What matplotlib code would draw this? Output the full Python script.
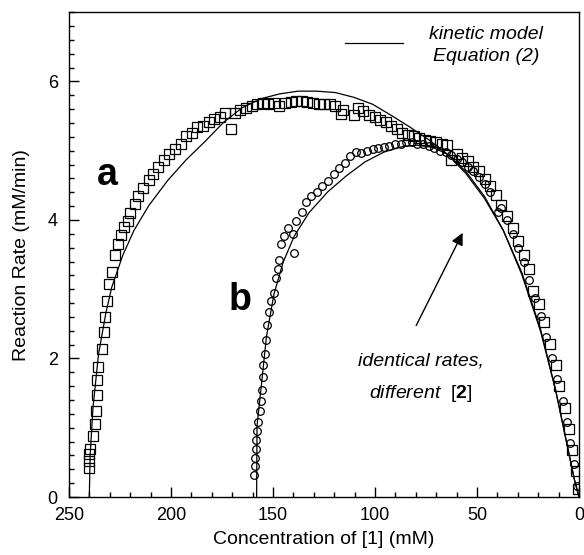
import matplotlib.pyplot as plt
from matplotlib.ticker import MultipleLocator

plt.rcParams['font.family'] = ['Liberation Sans', 'DejaVu Sans']
plt.rcParams['mathtext.fontset'] = 'custom'
plt.rcParams['mathtext.rm'] = 'Liberation Sans'
plt.rcParams['mathtext.bf'] = 'Liberation Sans:bold'

# series a (squares), concentration of [1] in mM and rate in mM/min
a_conc = [240.3, 240.2, 240.0, 239.8, 238.2, 237.3, 236.7, 236.0, 236.0, 235.5,
          233.6, 233.0, 232.4, 231.3, 230.5, 229.0, 227.2, 225.8, 224.3, 223.0,
          221.2, 220.0, 217.7, 216.0, 213.5, 210.8, 209.0, 206.2, 203.5, 200.8,
          198.0, 195.2, 192.5, 189.8, 187.0, 184.3, 181.5, 178.8, 176.0, 173.3,
          170.6, 168.7, 166.0, 163.3, 160.5, 157.8, 155.0, 152.3, 149.5, 146.8,
          144.0, 141.3, 138.6, 135.8, 133.1, 130.3, 127.6, 124.9, 122.1, 119.4,
          116.6, 115.7, 110.2, 108.4, 105.7, 102.9, 100.2, 97.4, 94.7, 92.0,
          89.2, 86.5, 83.7, 81.0, 78.2, 75.5, 72.8, 70.0, 67.3, 64.5,
          62.7, 60.0, 57.2, 54.5, 51.7, 49.0, 46.3, 43.5, 40.8, 38.0,
          35.3, 32.5, 29.8, 27.1, 24.3, 22.5, 19.7, 17.0, 14.3, 11.5,
          9.7, 6.9, 5.1, 3.3, 1.5, 0.5]
a_rate = [0.42, 0.52, 0.62, 0.70, 0.88, 1.06, 1.24, 1.47, 1.69, 1.88,
          2.14, 2.38, 2.60, 2.83, 3.08, 3.25, 3.49, 3.65, 3.78, 3.90,
          3.98, 4.10, 4.23, 4.34, 4.46, 4.58, 4.67, 4.77, 4.87, 4.95,
          5.03, 5.10, 5.21, 5.26, 5.34, 5.36, 5.41, 5.46, 5.49, 5.54,
          5.32, 5.54, 5.59, 5.62, 5.65, 5.67, 5.69, 5.67, 5.69, 5.64,
          5.69, 5.70, 5.72, 5.72, 5.70, 5.69, 5.68, 5.68, 5.67, 5.64,
          5.53, 5.59, 5.51, 5.62, 5.57, 5.51, 5.49, 5.44, 5.41, 5.36,
          5.31, 5.26, 5.23, 5.21, 5.18, 5.16, 5.14, 5.13, 5.10, 5.08,
          4.87, 4.95, 4.90, 4.85, 4.77, 4.70, 4.59, 4.49, 4.36, 4.21,
          4.06, 3.88, 3.70, 3.49, 3.29, 2.98, 2.78, 2.52, 2.21, 1.90,
          1.60, 1.29, 0.98, 0.68, 0.37, 0.11]

# series b (circles)
b_conc = [159.4, 159.0, 158.9, 158.5, 158.1, 157.8, 157.4, 156.5, 155.9, 155.6,
          155.0, 154.7, 154.1, 153.6, 153.0, 151.9, 150.8, 149.5, 148.6, 147.7,
          147.2, 145.9, 144.6, 142.8, 140.4, 139.5, 138.6, 135.8, 134.0, 131.3,
          128.5, 125.8, 123.0, 120.3, 117.5, 114.8, 112.1, 109.3, 106.6, 103.8,
          101.1, 98.4, 95.6, 92.9, 90.1, 87.4, 84.6, 81.9, 79.2, 76.4,
          73.7, 70.9, 68.2, 65.4, 62.7, 60.0, 57.2, 54.5, 51.7, 49.0,
          46.3, 43.5, 39.9, 38.0, 35.3, 32.5, 29.8, 27.1, 24.3, 21.6,
          18.8, 16.1, 13.3, 10.6, 7.9, 6.0, 4.2, 2.4, 0.9]
b_rate = [0.32, 0.45, 0.57, 0.70, 0.83, 0.96, 1.09, 1.24, 1.39, 1.55,
          1.73, 1.90, 2.06, 2.26, 2.49, 2.67, 2.83, 2.95, 3.16, 3.29,
          3.42, 3.65, 3.77, 3.88, 3.80, 3.52, 3.98, 4.11, 4.26, 4.34,
          4.41, 4.49, 4.57, 4.67, 4.75, 4.82, 4.93, 4.98, 4.97, 5.00,
          5.03, 5.04, 5.05, 5.07, 5.09, 5.10, 5.12, 5.13, 5.10, 5.09,
          5.07, 5.04, 5.00, 4.98, 4.94, 4.88, 4.83, 4.77, 4.70, 4.62,
          4.52, 4.41, 4.11, 4.18, 4.00, 3.80, 3.59, 3.39, 3.13, 2.88,
          2.62, 2.31, 2.01, 1.70, 1.39, 1.09, 0.78, 0.47, 0.16]

# kinetic model curves, Equation (2)
ma_conc = [240.0, 239.6, 238.2, 235.5, 231.8, 229.0, 223.6, 218.1, 210.8, 201.6,
           192.5, 183.4, 174.2, 165.1, 156.0, 146.8, 137.7, 128.5, 119.4, 110.2,
           101.1, 92.0, 82.8, 73.7, 64.5, 55.4, 46.3, 37.1, 28.0, 18.8,
           11.5, 6.0, 2.4, 0.0]
ma_rate = [0.0, 0.6, 1.29, 2.06, 2.67, 3.03, 3.49, 3.85, 4.21, 4.57,
           4.87, 5.13, 5.41, 5.62, 5.75, 5.82, 5.86, 5.86, 5.84, 5.77,
           5.67, 5.51, 5.34, 5.16, 4.95, 4.67, 4.31, 3.85, 3.24, 2.42,
           1.55, 0.78, 0.27, 0.0]
mb_conc = [158.0, 157.9, 157.8, 155.9, 153.2, 149.5, 145.0, 139.5, 132.2, 123.0,
           113.9, 104.8, 95.6, 86.5, 79.2, 71.8, 64.5, 55.4, 46.3, 37.1,
           28.0, 18.8, 11.5, 6.0, 2.4, 0.0]
mb_rate = [0.0, 0.5, 1.03, 1.55, 2.31, 2.93, 3.39, 3.77, 4.11, 4.41,
           4.64, 4.84, 4.98, 5.06, 5.08, 5.05, 4.95, 4.70, 4.34, 3.85,
           3.21, 2.39, 1.55, 0.78, 0.27, 0.0]

fig = plt.figure(figsize=(5.84, 5.55), dpi=100)
ax = fig.add_axes([0.118, 0.1045, 0.8734, 0.8735])

ax.plot(a_conc, a_rate, 's', ms=6.5, mfc='none', mec='black', mew=0.9)
ax.plot(b_conc, b_rate, 'o', ms=5.5, mfc='none', mec='black', mew=0.9)
ax.plot(ma_conc, ma_rate, '-', color='black', lw=0.9)
ax.plot(mb_conc, mb_rate, '-', color='black', lw=0.9)

ax.set_xlim(250, 0)
ax.set_ylim(0, 7)
ax.xaxis.set_major_locator(MultipleLocator(50))
ax.xaxis.set_minor_locator(MultipleLocator(10))
ax.yaxis.set_major_locator(MultipleLocator(2))
ax.yaxis.set_minor_locator(MultipleLocator(0.2))
ax.tick_params(which='both', direction='in', labelsize=13, width=1)
ax.tick_params(which='major', length=7)
ax.tick_params(which='minor', length=3.5)
ax.tick_params(axis='x', pad=7)
ax.tick_params(axis='y', pad=8)
for s in ax.spines.values():
    s.set_linewidth(1)

ax.set_xlabel('Concentration of [1] (mM)', fontsize=14, labelpad=5)
ax.set_ylabel('Reaction Rate (mM/min)', fontsize=14, labelpad=13)

# legend drawn by hand
ax.plot([114.7, 86.3], [6.56, 6.56], '-', color='black', lw=0.9)
ax.text(45.6, 6.68, 'kinetic model', fontsize=14, style='italic', ha='center', va='center')
ax.text(45.6, 6.36, 'Equation (2)', fontsize=14, style='italic', ha='center', va='center')

ax.text(231, 4.65, 'a', fontsize=27, fontweight='bold', ha='center', va='center')
ax.text(166, 2.85, 'b', fontsize=27, fontweight='bold', ha='center', va='center')

ax.annotate('', xy=(56.4, 3.85), xytext=(80.4, 2.44),
            arrowprops=dict(arrowstyle='-|>', color='black', lw=1, mutation_scale=18))
ax.text(77.5, 1.97, 'identical rates,', fontsize=14, style='italic', ha='center', va='center')
ax.text(77.5, 1.5, r'different  $[\mathbf{2}]$', fontsize=14, style='italic', ha='center', va='center')

fig.savefig('out.png', dpi=100)
